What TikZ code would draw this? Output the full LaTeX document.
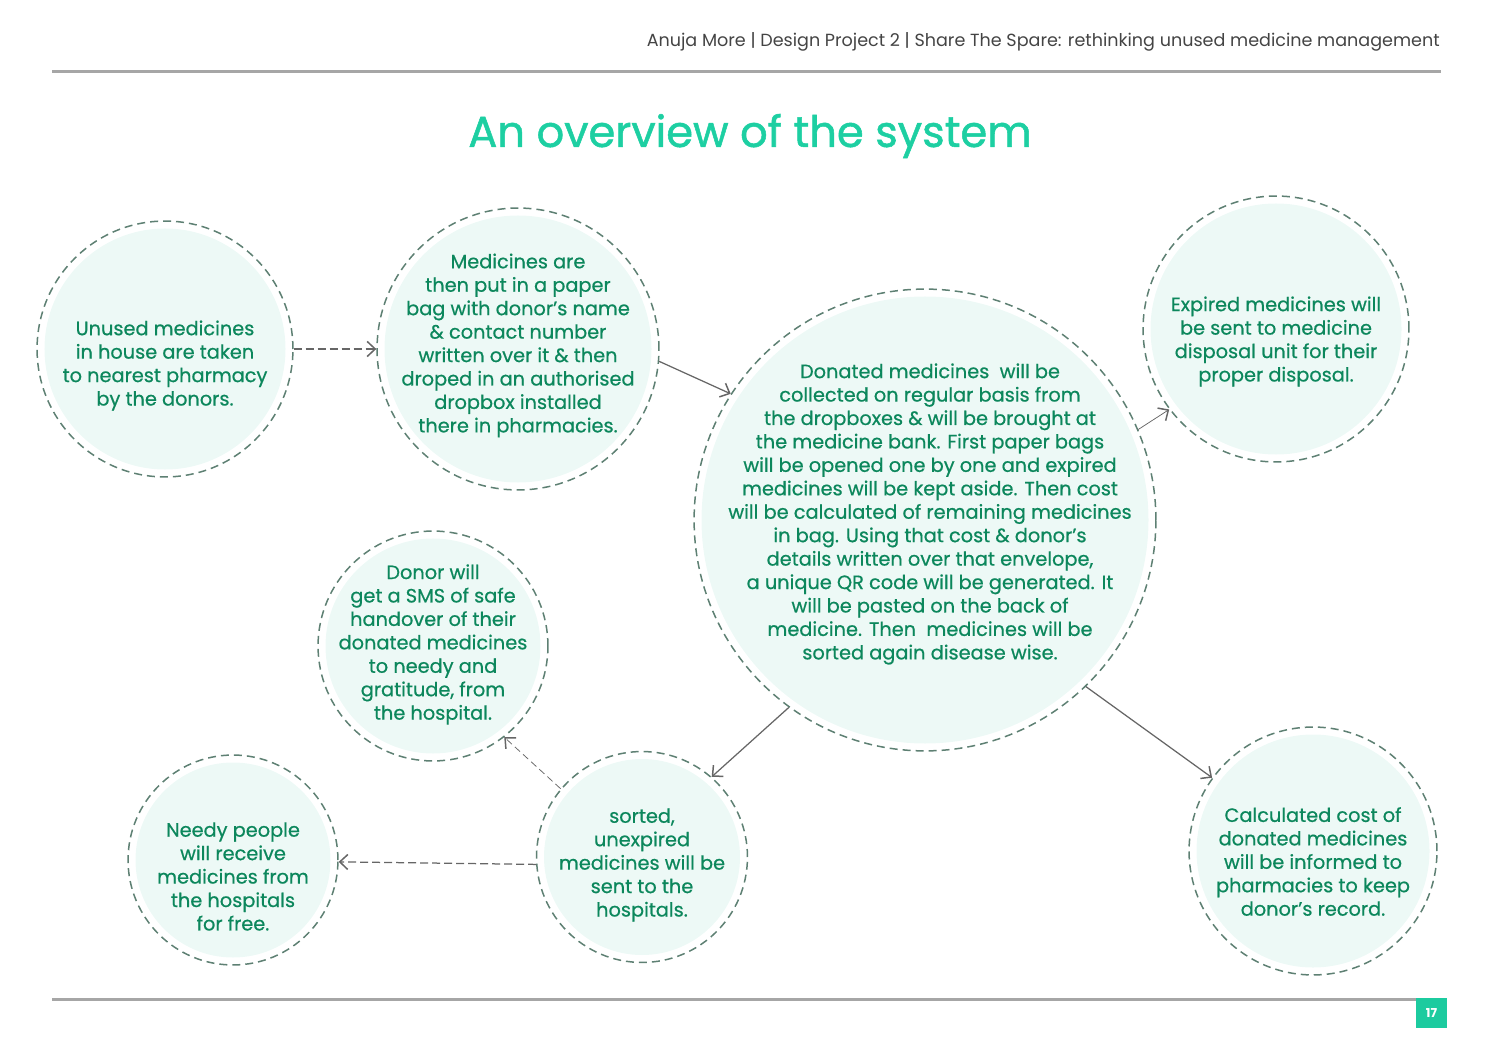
\documentclass[tikz,border=0pt]{standalone}
\usepackage{fontspec}
\setmainfont{Poppins}
\newfontfamily\medfont[FakeBold=0.6]{Poppins}
\newfontfamily\titlefont[FakeBold=1.2]{Poppins}
\usetikzlibrary{arrows.meta}
\definecolor{mint}{HTML}{EDF9F6}
\definecolor{dashc}{HTML}{5E8073}
\definecolor{txtc}{HTML}{0C875C}
\definecolor{titlec}{HTML}{1DCFA2}
\definecolor{arrc}{HTML}{666666}
\definecolor{rulec}{HTML}{A6A6A6}
\definecolor{boxc}{HTML}{1CCB9F}
\definecolor{headc}{HTML}{444444}
\tikzset{
  circ/.style={circle, draw=dashc, line width=0.03cm, dash pattern=on 0.16cm off 0.1cm,
    minimum size=#1*0.04cm, inner sep=0pt,
    path picture={\fill[mint] (path picture bounding box.center) circle[radius=#1*0.02cm-0.15cm];}},
  txt/.style={text=txtc, align=center, inner sep=0pt, font=\medfont\fontsize{11}{13.34}\selectfont},
  arr/.style={draw=arrc, line width=0.025cm, -{Straight Barb[length=0.16cm,width=0.3cm,line width=0.03cm]}},
  thinarr/.style={arr, line width=0.015cm},
  darr/.style={arr, dash pattern=on 0.16cm off 0.08cm},
}
\begin{document}
\begin{tikzpicture}[x=0.02cm,y=-0.02cm]
\useasboundingbox (0,0) rectangle (1500,1060);
% header
\node[anchor=east, text=headc, font=\fontsize{10}{12}\selectfont, inner sep=0pt] (head) at (1440,42) {Anuja More | Design Project 2 | Share The Spare: rethinking unused medicine management};
\coordinate (r1a) at (52,72); \coordinate (r1b) at (1441,72);
\draw[rulec, line width=0.06cm] (r1a) -- (r1b);
\coordinate (r2a) at (52,999); \coordinate (r2b) at (1416,999);
\draw[rulec, line width=0.06cm] (r2a) -- (r2b);
\node[fill=boxc, minimum width=31*0.02cm, minimum height=30*0.02cm, inner sep=0pt, text=white, font=\fontsize{7}{8}\selectfont\bfseries] (pg) at (1431.5,1013) {17};
% title
\node[text=titlec, font=\titlefont\fontsize{24.6}{28}\selectfont, inner sep=0pt] (title) at (750,136) {An overview of the system};
% circles
\node[circ=128] (c1) at (165,349) {};
\node[circ=141] (c2) at (518,349) {};
\node[circ=231] (c3) at (925,520) {};
\node[circ=133] (c4) at (1276,329) {};
\node[circ=115] (c5) at (433,646) {};
\node[circ=105] (c6) at (233,860) {};
\node[circ=105.5] (c7) at (642,857) {};
\node[circ=124] (c8) at (1313,851) {};
% texts
\node[txt] (t1) at (165,365.5) {Unused medicines\\in house are taken\\to nearest pharmacy\\by the donors.};
\node[txt] (t2) at (518,345.5) {Medicines are\\then put in a paper\\bag with donor’s name\\\& contact number\\written over it \& then\\droped in an authorised\\dropbox installed\\there in pharmacies.};
\node[txt] (t3) at (930,514) {Donated medicines\ \ will be\\collected on regular basis from\\the dropboxes \& will be brought at\\the medicine bank. First paper bags\\will be opened one by one and expired\\medicines will be kept aside. Then cost\\will be calculated of remaining medicines\\in bag. Using that cost \& donor’s\\details written over that envelope,\\a unique QR code will be generated. It\\will be pasted on the back of\\medicine. Then\ \ medicines will be\\sorted again disease wise.};
\node[txt] (t4) at (1276,341.5) {Expired medicines will\\be sent to medicine\\disposal unit for their\\proper disposal.};
\node[txt] (t5) at (433,644.5) {Donor will\\get a SMS of safe\\handover of their\\donated medicines\\to needy and\\gratitude, from\\the hospital.};
\node[txt] (t6) at (233,876.5) {Needy people\\will receive\\medicines from\\the hospitals\\for free.};
\node[txt] (t7) at (642,865) {sorted,\\unexpired\\medicines will be\\sent to the\\hospitals.};
\node[txt] (t8) at (1313,861.5) {Calculated cost of\\donated medicines\\will be informed to\\pharmacies to keep\\donor’s record.};
% connectors
\draw[darr] (c1.0) -- (c2.180);
\draw[arr] (c2.-5.3) -- (c3.147.1);
\draw[thinarr] (c3.23) -- (c4.217.9);
\draw[arr] (c3.-126.4) -- (c7.49.3);
\draw[arr] (c3.-46.2) -- (c8.144.9);
\draw[darr, thinarr, dash pattern=on 0.14cm off 0.08cm] (c7.140) -- (c5.-52.1);
\draw[darr] (c7.184.4) -- (c6.-1);
\end{tikzpicture}
\end{document}
